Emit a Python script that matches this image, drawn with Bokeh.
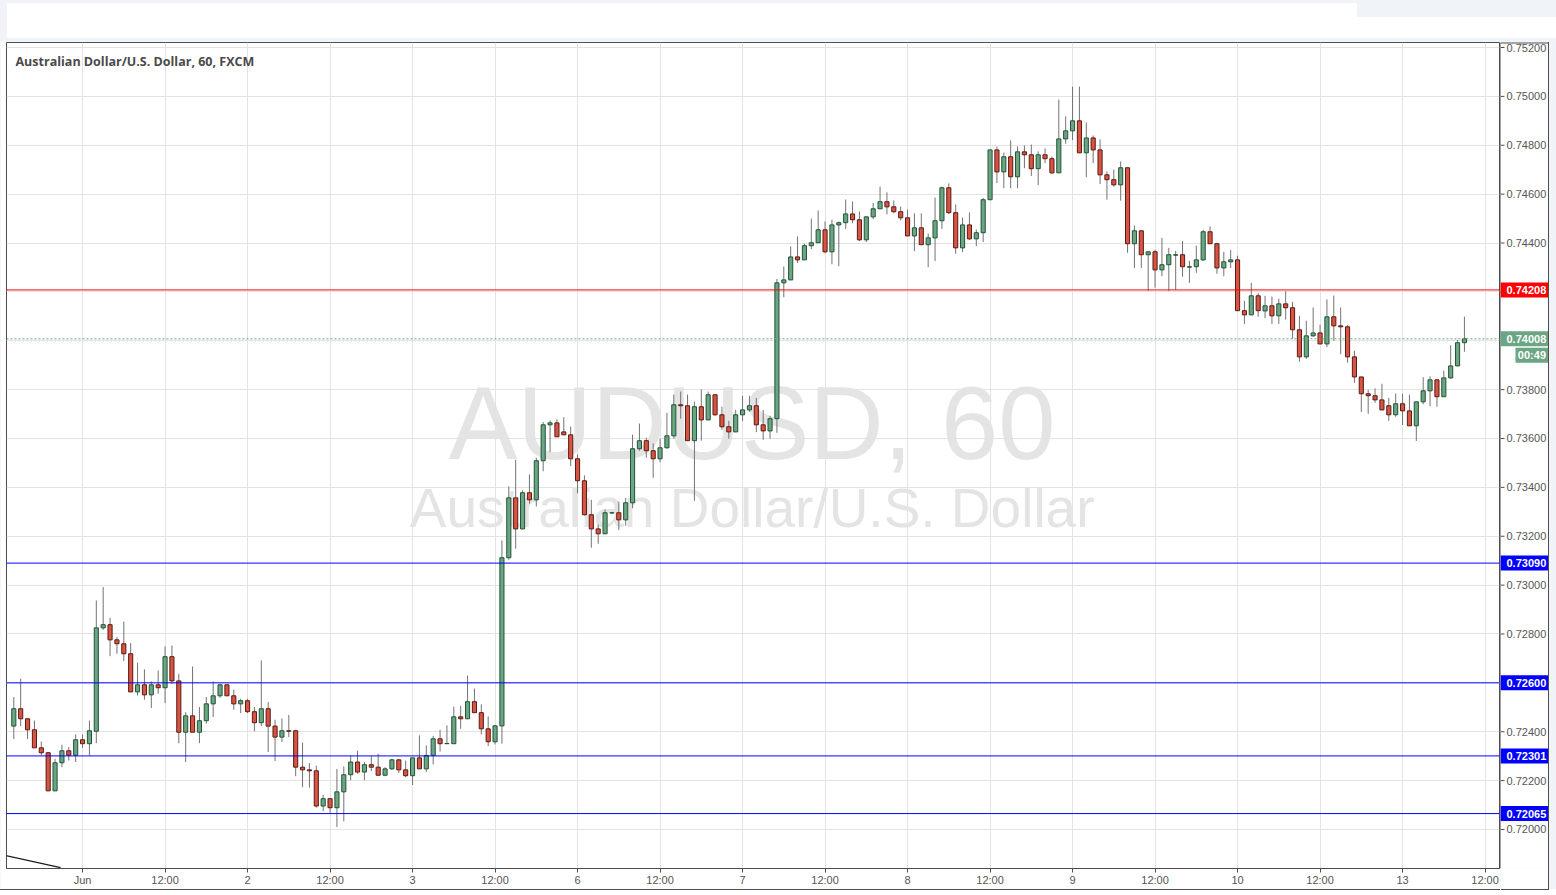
from bokeh.plotting import figure
from bokeh.layouts import column, row
from bokeh.models import (ColumnDataSource, Range1d, Span, Label, FixedTicker, Grid, Div)
from bokeh.core.properties import value
from bokeh.embed import file_html
from bokeh.resources import INLINE

# ---------------- data (AUD/USD, 60 min, FXCM) ----------------
opens = [
0.72423,0.72494,0.72453,0.72408,0.72334,0.72314,0.72158,0.72273,0.72322,0.72304,
0.72367,0.72351,0.72402,0.72825,0.72838,0.72776,0.72760,0.72719,0.72563,0.72592,
0.72551,0.72592,0.72580,0.72707,0.72608,0.72398,0.72465,0.72398,0.72445,0.72514,
0.72547,0.72592,0.72547,0.72514,0.72527,0.72482,0.72437,0.72494,0.72423,0.72378,
0.72404,0.72404,0.72255,0.72244,0.72240,0.72096,0.72126,0.72089,0.72154,0.72224,
0.72276,0.72235,0.72265,0.72255,0.72222,0.72248,0.72285,0.72244,0.72220,0.72293,
0.72248,0.72303,0.72371,0.72351,0.72351,0.72461,0.72453,0.72523,0.72478,0.72412,
0.72359,0.72424,0.73112,0.73357,0.73230,0.73378,0.73349,0.73509,0.73656,0.73664,
0.73627,0.73615,0.73517,0.73427,0.73288,0.73230,0.73210,0.73295,0.73296,0.73267,
0.73337,0.73558,0.73591,0.73550,0.73517,0.73562,0.73611,0.73738,0.73734,0.73591,
0.73730,0.73676,0.73779,0.73697,0.73648,0.73627,0.73697,0.73717,0.73734,0.73656,
0.73631,0.73681,0.74237,0.74249,0.74343,0.74331,0.74389,0.74401,0.74454,0.74364,
0.74474,0.74483,0.74519,0.74495,0.74413,0.74507,0.74540,0.74569,0.74548,0.74528,
0.74503,0.74429,0.74462,0.74393,0.74421,0.74491,0.74626,0.74524,0.74380,0.74474,
0.74417,0.74442,0.74577,0.74781,0.74691,0.74753,0.74671,0.74773,0.74761,0.74704,
0.74761,0.74745,0.74687,0.74826,0.74859,0.74900,0.74769,0.74830,0.74781,0.74679,
0.74659,0.74638,0.74708,0.74397,0.74450,0.74352,0.74364,0.74290,0.74311,0.74350,
0.74352,0.74301,0.74303,0.74331,0.74446,0.74397,0.74298,0.74323,0.74331,0.74123,
0.74106,0.74184,0.74122,0.74143,0.74102,0.74151,0.74135,0.74045,0.73934,0.74020,
0.74032,0.73987,0.74098,0.74061,0.74057,0.73934,0.73852,0.73783,0.73775,0.73758,
0.73734,0.73697,0.73742,0.73713,0.73652,0.73750,0.73795,0.73840,0.73771,0.73848,
0.73897,0.73992]

highs = [
0.72542,0.72617,0.72453,0.72446,0.72360,0.72317,0.72289,0.72347,0.72337,0.72389,
0.72389,0.72446,0.72937,0.72992,0.72866,0.72787,0.72851,0.72763,0.72683,0.72655,
0.72606,0.72651,0.72749,0.72753,0.72637,0.72480,0.72667,0.72501,0.72542,0.72606,
0.72596,0.72592,0.72572,0.72535,0.72535,0.72501,0.72692,0.72521,0.72449,0.72454,
0.72469,0.72408,0.72355,0.72272,0.72261,0.72142,0.72126,0.72248,0.72258,0.72303,
0.72323,0.72276,0.72300,0.72310,0.72255,0.72289,0.72289,0.72282,0.72293,0.72385,
0.72344,0.72383,0.72408,0.72426,0.72503,0.72506,0.72630,0.72577,0.72512,0.72463,
0.72428,0.73183,0.73404,0.73513,0.73387,0.73453,0.73521,0.73667,0.73674,0.73678,
0.73687,0.73649,0.73535,0.73449,0.73349,0.73248,0.73310,0.73298,0.73342,0.73357,
0.73616,0.73661,0.73603,0.73580,0.73599,0.73705,0.73780,0.73792,0.73780,0.73751,
0.73801,0.73792,0.73779,0.73730,0.73672,0.73717,0.73775,0.73775,0.73766,0.73717,
0.73693,0.74253,0.74304,0.74386,0.74427,0.74397,0.74500,0.74533,0.74488,0.74495,
0.74488,0.74578,0.74570,0.74529,0.74507,0.74564,0.74631,0.74607,0.74574,0.74549,
0.74537,0.74521,0.74521,0.74439,0.74586,0.74631,0.74644,0.74558,0.74504,0.74525,
0.74455,0.74584,0.74781,0.74795,0.74770,0.74820,0.74795,0.74799,0.74803,0.74775,
0.74787,0.74754,0.74987,0.74918,0.75040,0.75040,0.74893,0.74840,0.74824,0.74693,
0.74701,0.74734,0.74708,0.74472,0.74450,0.74364,0.74372,0.74421,0.74380,0.74368,
0.74409,0.74327,0.74389,0.74454,0.74468,0.74401,0.74364,0.74372,0.74348,0.74163,
0.74237,0.74195,0.74184,0.74181,0.74172,0.74202,0.74159,0.74102,0.74082,0.74136,
0.74065,0.74169,0.74185,0.74136,0.74065,0.73959,0.73852,0.73799,0.73805,0.73824,
0.73766,0.73784,0.73783,0.73779,0.73750,0.73851,0.73854,0.73840,0.73878,0.73981,
0.74004,0.74099]

lows = [
0.72370,0.72423,0.72370,0.72334,0.72303,0.72158,0.72158,0.72255,0.72282,0.72276,
0.72333,0.72303,0.72353,0.72817,0.72709,0.72719,0.72689,0.72563,0.72548,0.72531,
0.72497,0.72555,0.72517,0.72596,0.72353,0.72276,0.72398,0.72353,0.72433,0.72460,
0.72539,0.72547,0.72490,0.72476,0.72476,0.72402,0.72423,0.72317,0.72280,0.72358,
0.72378,0.72218,0.72173,0.72171,0.72089,0.72075,0.72068,0.72010,0.72033,0.72201,
0.72228,0.72201,0.72239,0.72220,0.72218,0.72244,0.72231,0.72214,0.72182,0.72248,
0.72235,0.72266,0.72319,0.72351,0.72351,0.72412,0.72453,0.72478,0.72389,0.72341,
0.72348,0.72351,0.73104,0.73149,0.73230,0.73333,0.73322,0.73466,0.73544,0.73607,
0.73615,0.73487,0.73376,0.73284,0.73153,0.73169,0.73210,0.73294,0.73226,0.73243,
0.73315,0.73550,0.73521,0.73439,0.73503,0.73558,0.73599,0.73681,0.73591,0.73345,
0.73591,0.73676,0.73693,0.73636,0.73599,0.73627,0.73672,0.73709,0.73626,0.73595,
0.73599,0.73623,0.74178,0.74249,0.74318,0.74331,0.74375,0.74401,0.74358,0.74313,
0.74305,0.74457,0.74481,0.74408,0.74404,0.74498,0.74540,0.74517,0.74522,0.74492,
0.74429,0.74367,0.74393,0.74301,0.74326,0.74457,0.74519,0.74356,0.74363,0.74412,
0.74387,0.74404,0.74577,0.74645,0.74624,0.74624,0.74624,0.74706,0.74674,0.74637,
0.74727,0.74683,0.74687,0.74806,0.74821,0.74769,0.74669,0.74727,0.74641,0.74577,
0.74630,0.74573,0.74360,0.74298,0.74298,0.74204,0.74217,0.74264,0.74204,0.74208,
0.74262,0.74237,0.74278,0.74327,0.74397,0.74274,0.74264,0.74298,0.74123,0.74069,
0.74106,0.74098,0.74092,0.74069,0.74069,0.74086,0.74008,0.73914,0.73926,0.74016,
0.73987,0.73974,0.74000,0.73945,0.73910,0.73828,0.73708,0.73701,0.73746,0.73717,
0.73672,0.73689,0.73655,0.73652,0.73590,0.73740,0.73732,0.73730,0.73771,0.73844,
0.73897,0.73955]

closes = [
0.72494,0.72453,0.72408,0.72334,0.72314,0.72158,0.72273,0.72322,0.72304,0.72367,
0.72351,0.72404,0.72825,0.72838,0.72776,0.72760,0.72719,0.72563,0.72592,0.72551,
0.72592,0.72580,0.72707,0.72608,0.72398,0.72465,0.72398,0.72445,0.72514,0.72547,
0.72592,0.72547,0.72514,0.72527,0.72482,0.72437,0.72494,0.72423,0.72378,0.72404,
0.72402,0.72255,0.72244,0.72240,0.72096,0.72126,0.72089,0.72154,0.72224,0.72276,
0.72235,0.72265,0.72255,0.72222,0.72248,0.72285,0.72244,0.72220,0.72293,0.72248,
0.72303,0.72371,0.72351,0.72352,0.72461,0.72453,0.72523,0.72478,0.72412,0.72359,
0.72424,0.73112,0.73357,0.73230,0.73378,0.73349,0.73509,0.73656,0.73664,0.73607,
0.73615,0.73517,0.73427,0.73288,0.73230,0.73210,0.73296,0.73296,0.73267,0.73337,
0.73558,0.73591,0.73550,0.73517,0.73562,0.73611,0.73738,0.73734,0.73591,0.73730,
0.73676,0.73779,0.73697,0.73648,0.73627,0.73697,0.73717,0.73734,0.73656,0.73631,
0.73681,0.74237,0.74249,0.74343,0.74331,0.74389,0.74401,0.74454,0.74364,0.74474,
0.74483,0.74519,0.74495,0.74413,0.74507,0.74540,0.74569,0.74548,0.74528,0.74503,
0.74429,0.74462,0.74393,0.74421,0.74491,0.74626,0.74524,0.74380,0.74474,0.74417,
0.74442,0.74577,0.74781,0.74691,0.74753,0.74671,0.74773,0.74761,0.74704,0.74761,
0.74745,0.74687,0.74826,0.74859,0.74900,0.74769,0.74830,0.74781,0.74679,0.74659,
0.74638,0.74708,0.74397,0.74450,0.74352,0.74364,0.74290,0.74311,0.74352,0.74352,
0.74303,0.74303,0.74331,0.74446,0.74397,0.74298,0.74323,0.74331,0.74123,0.74106,
0.74184,0.74123,0.74143,0.74102,0.74151,0.74135,0.74045,0.73934,0.74020,0.74032,
0.73987,0.74098,0.74061,0.74057,0.73934,0.73852,0.73783,0.73775,0.73758,0.73717,
0.73697,0.73742,0.73713,0.73652,0.73750,0.73795,0.73840,0.73771,0.73848,0.73897,
0.73992,0.74008]

# time-axis ticks: bar index of each label (one bar = one hour, weekend removed)
tick_bars = [10, 22, 34, 46, 58, 70, 82, 94, 106, 118, 130, 142, 154, 166, 178, 190, 202, 214]
tick_labels = ["Jun", "12:00", "2", "12:00", "3", "12:00", "6", "12:00", "7", "12:00",
               "8", "12:00", "9", "12:00", "10", "12:00", "13", "12:00"]
price_ticks = [0.720, 0.722, 0.724, 0.726, 0.728, 0.730, 0.732, 0.734, 0.736, 0.738,
               0.740, 0.742, 0.744, 0.746, 0.748, 0.750, 0.752]

red_level = [0.74208]
blue_levels = [0.73090, 0.72600, 0.72301, 0.72065]
last_price = 0.74008
countdown = "00:49"

trend_x = [-1.2, 6.8]
trend_y = [0.71893, 0.71844]

# ---------------- styling ----------------
UP_FILL, UP_LINE = "#6ba583", "#225437"
DN_FILL, DN_LINE = "#d75442", "#5b1a13"
WICK = "#737375"
GRID = "#e3e3e3"
AXIS = "#4d4d4d"
LABEL = "#555555"
PAGE_BG = "#f0f3f8"

n = len(opens)
xs = list(range(n))
up = [c >= o for o, c in zip(opens, closes)]
src = ColumnDataSource(dict(
    x=xs, high=highs, low=lows,
    top=[max(o, c) for o, c in zip(opens, closes)],
    bottom=[min(o, c) for o, c in zip(opens, closes)],
    fill=[UP_FILL if u else DN_FILL for u in up],
    line=[UP_LINE if u else DN_LINE for u in up],
))

X0, X1 = -1.062, 216.1
Y0, Y1 = 0.718403, 0.752205
FRAME_H = 826
PXU = FRAME_H / (Y1 - Y0)          # pixels per price unit
yr = Range1d(Y0, Y1)

# ---------------- main price pane ----------------
p = figure(width=1500, height=848, x_range=Range1d(X0, X1), y_range=yr,
           y_axis_type=None, toolbar_location=None, output_backend="svg",
           min_border_left=6, min_border_top=1, min_border_right=1, min_border_bottom=21,
           background_fill_color="white", border_fill_color="white",
           outline_line_color=AXIS, outline_line_width=1)
p.styles = {"box-shadow": "0 1px 0 0 #4d4d4d"}

# watermark
wm = ColumnDataSource(dict(x=[107.4, 107.4], y=[0.73661, 0.73314],
                           t=["AUDUSD, 60", "Australian Dollar/U.S. Dollar"],
                           s=["103px", "55px"]))
r_wm = p.text(x="x", y="y", text="t", source=wm, text_font=value("Liberation Sans"),
              text_font_size="s", text_color="#e4e4e4", text_align="center",
              text_baseline="alphabetic")
r_wm.level = "image"

# grid
p.xgrid.grid_line_color = GRID
p.add_layout(Grid(dimension=1, ticker=FixedTicker(ticks=price_ticks), grid_line_color=GRID))

# time axis
p.xaxis.ticker = FixedTicker(ticks=tick_bars)
p.xaxis.major_label_overrides = {b: l for b, l in zip(tick_bars, tick_labels)}
ax = p.xaxis[0]
ax.axis_line_color = AXIS
ax.major_tick_line_color = AXIS
ax.major_tick_out = 4
ax.major_tick_in = 0
ax.minor_tick_line_color = None
ax.major_label_text_font = "Liberation Sans"
ax.major_label_text_font_size = "11px"
ax.major_label_text_color = LABEL
ax.major_label_standoff = 1

# candles
p.segment(x0="x", y0="high", x1="x", y1="low", source=src, line_color=WICK, line_width=1)
p.vbar(x="x", width=0.6, top="top", bottom="bottom", source=src,
       fill_color="fill", line_color="line", line_width=1)

# trend line fragment
p.line(trend_x, trend_y, line_color="#1a1a1a", line_width=1.2)

# horizontal levels
for lv in red_level:
    p.add_layout(Span(location=lv, dimension="width", line_color="#ff0000", line_width=1))
for lv in blue_levels:
    p.add_layout(Span(location=lv, dimension="width", line_color="#0000ff", line_width=1))
p.add_layout(Span(location=last_price, dimension="width", line_color=UP_FILL,
                  line_width=1, line_dash="2 2"))

# title
p.add_layout(Label(x=X0, y=Y1, x_offset=9, y_offset=-18.5,
                   text="Australian Dollar/U.S. Dollar, 60, FXCM",
                   text_font="Open Sans", text_font_size="12.5px", text_font_style="bold",
                   text_color="#4a4a4a", text_baseline="alphabetic"))

# ---------------- price scale pane (right) ----------------
q = figure(width=48, height=848, x_range=Range1d(0, 48), y_range=yr,
           x_axis_type=None, y_axis_type=None, toolbar_location=None, output_backend="svg",
           min_border_left=0, min_border_right=0, min_border_top=1, min_border_bottom=21,
           background_fill_color="white", border_fill_color="white",
           outline_line_color=None)
q.styles = {"box-shadow": "1px 1px 0 0 #4d4d4d"}
q.xgrid.visible = False
q.ygrid.visible = False

# pane top edge and price axis line
q.segment(x0=[0], y0=[Y1], x1=[48], y1=[Y1], line_color=AXIS, line_width=2)
q.segment(x0=[0], y0=[Y0], x1=[0], y1=[Y1], line_color=AXIS, line_width=1)
q.segment(x0=[0] * len(price_ticks), y0=price_ticks, x1=[4] * len(price_ticks), y1=price_ticks,
          line_color=AXIS, line_width=1)
q.text(x=[6] * len(price_ticks), y=price_ticks, text=[f"{t:.5f}" for t in price_ticks],
       text_font=value("Liberation Sans"), text_font_size="11px", text_color=LABEL,
       text_baseline="middle", text_align="left")

tag_y = red_level + blue_levels + [last_price]
tag_c = ["#ff0000"] + ["#0000ff"] * len(blue_levels) + [UP_FILL]
q.rect(x=[24] * len(tag_y), y=tag_y, width=48, height=15, height_units="screen",
       fill_color=tag_c, line_color=None)
q.text(x=[6] * len(tag_y), y=tag_y, text=[f"{t:.5f}" for t in tag_y],
       text_font=value("Liberation Sans"), text_font_size="11px", text_font_style="bold",
       text_color="white", text_baseline="middle", text_align="left")
cd_y = last_price - 16.5 / PXU
q.rect(x=[31.5], y=[cd_y], width=33, height=15, height_units="screen",
       fill_color=UP_FILL, line_color=None)
q.text(x=[45.5], y=[cd_y], text=[countdown], text_font=value("Liberation Sans"),
       text_font_size="11px", text_font_style="bold", text_color="white",
       text_baseline="middle", text_align="right")

# header strip (toolbar area above the chart pane)
header = Div(width=1556, height=41, margin=0, text=(
    '<div style="position:relative;width:1556px;height:41px;background:%s;">'
    '<div style="position:absolute;left:7px;top:3px;width:1350px;height:35px;background:#ffffff;"></div>'
    '<div style="position:absolute;left:1357px;top:17px;width:199px;height:21px;background:#ffffff;"></div>'
    '</div>') % PAGE_BG)

layout = column(header, row(p, q), styles={"background-color": PAGE_BG})
open("out.html", "w").write(file_html(layout, INLINE))
